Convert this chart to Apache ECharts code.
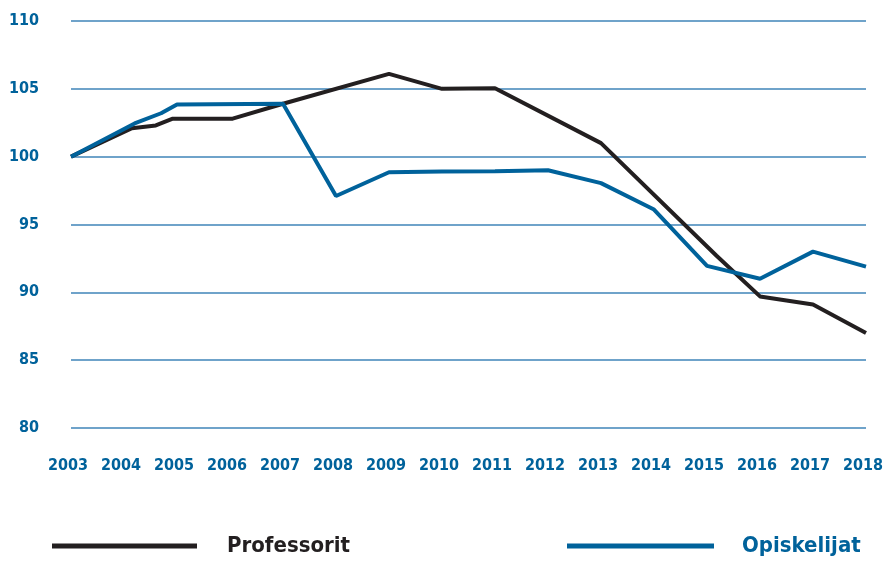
<!DOCTYPE html>
<html><head><meta charset="utf-8">
<script src="https://cdn.jsdelivr.net/npm/echarts@6/dist/echarts.min.js"></script>
<style>html,body{margin:0;padding:0;background:#fff}#c{width:895px;height:561px}</style>
</head><body><div id="c"></div>
<script>
// Data (x = year, fractional where the line has a kink between years)
var profYears = [2003, 2004.15, 2004.6, 2004.92, 2006.05, 2007, 2009, 2010, 2011, 2013, 2015.18, 2016, 2017, 2018];
var profValues = [100, 102.1, 102.3, 102.8, 102.8, 103.9, 106.1, 105.0, 105.05, 101.0, 92.7, 89.7, 89.1, 87.0];
var studYears = [2003, 2004.2, 2004.7, 2005, 2007, 2008, 2009, 2010, 2011, 2012, 2013, 2014, 2015, 2016, 2017, 2018];
var studValues = [100, 102.45, 103.2, 103.85, 103.9, 97.1, 98.85, 98.9, 98.93, 99.0, 98.05, 96.1, 91.95, 91.0, 93.0, 91.9];
var yearTicks = [2003, 2004, 2005, 2006, 2007, 2008, 2009, 2010, 2011, 2012, 2013, 2014, 2015, 2016, 2017, 2018];
var seriesNames = ['Professorit', 'Opiskelijat'];

function pairs(xs, ys) { return xs.map(function (x, i) { return [x, ys[i]]; }); }

var BLUE = '#00629b', BLACK = '#231f20', GRID = '#3f85b8';
var FONT = 'DejaVu Sans Condensed';
var chart = echarts.init(document.getElementById('c'));
chart.setOption({
  animation: false,
  grid: { left: 71, right: 29, top: 21, bottom: 133 },
  xAxis: {
    type: 'value', min: 2003, max: 2018, interval: 1,
    axisLine: { show: false }, axisTick: { show: false }, splitLine: { show: false },
    axisLabel: { color: BLUE, fontFamily: FONT, fontWeight: 'bold', fontSize: 16, margin: 30,
      padding: [0, 6, 0, 0],
      formatter: function (v) { return yearTicks.indexOf(v) >= 0 ? String(v) : ''; } }
  },
  yAxis: {
    type: 'value', min: 80, max: 110, interval: 5,
    axisLine: { show: false }, axisTick: { show: false },
    splitLine: { lineStyle: { color: GRID, width: 1.5 } },
    axisLabel: { color: BLUE, fontFamily: FONT, fontWeight: 'bold', fontSize: 16, margin: 32 }
  },
  legend: [
    { data: [seriesNames[0]], left: 52, top: 535, padding: 0, icon: 'rect', itemWidth: 145, itemHeight: 5, itemGap: 0,
      textStyle: { color: BLACK, fontFamily: FONT, fontWeight: 'bold', fontSize: 22, padding: [0, 0, 0, 25] } },
    { data: [seriesNames[1]], left: 567, top: 535, padding: 0, icon: 'rect', itemWidth: 147, itemHeight: 5, itemGap: 0,
      textStyle: { color: BLUE, fontFamily: FONT, fontWeight: 'bold', fontSize: 22, padding: [0, 0, 0, 23] } }
  ],
  series: [
    { name: seriesNames[0], type: 'line', data: pairs(profYears, profValues), showSymbol: false,
      color: BLACK, lineStyle: { color: BLACK, width: 4 } },
    { name: seriesNames[1], type: 'line', data: pairs(studYears, studValues), showSymbol: false,
      color: BLUE, lineStyle: { color: BLUE, width: 4 } }
  ]
});
</script></body></html>
